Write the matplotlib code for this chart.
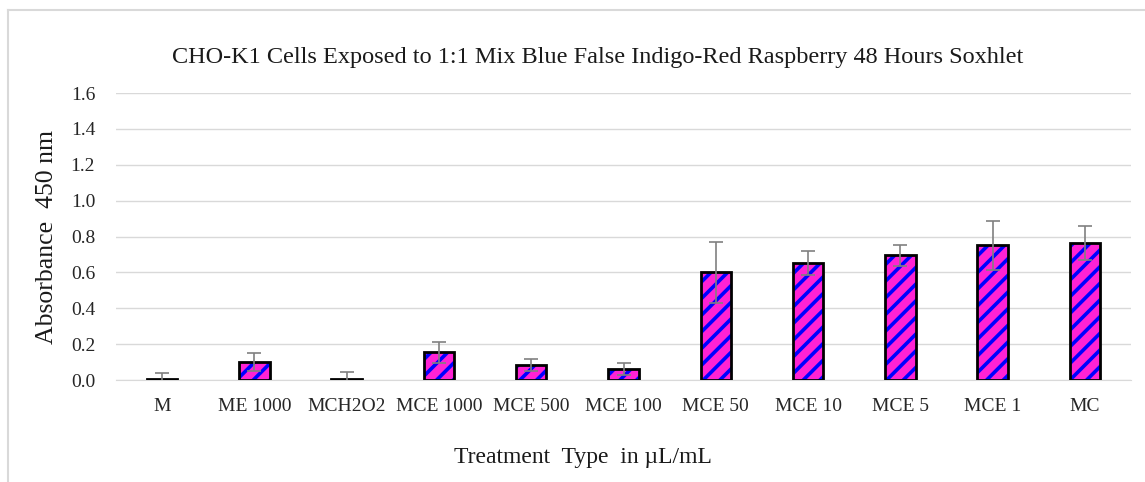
import numpy as np
import matplotlib.pyplot as plt
from matplotlib.lines import Line2D

# Data
treatments = ["M", "ME 1000", "MCH2O2", "MCE 1000", "MCE 500", "MCE 100",
              "MCE 50", "MCE 10", "MCE 5", "MCE 1", "MC"]
absorbance = [0.007, 0.100, 0.006, 0.154, 0.084, 0.061,
              0.600, 0.650, 0.695, 0.752, 0.765]
errors = [0.030, 0.050, 0.040, 0.060, 0.032, 0.032,
          0.168, 0.067, 0.060, 0.136, 0.095]

plt.rcParams['font.family'] = ['Liberation Serif', 'DejaVu Serif']
plt.rcParams['hatch.linewidth'] = 2.6

fig = plt.figure(figsize=(11.45, 4.82), dpi=100)
ax = fig.add_axes([0.1013, 0.2116, 0.8865, 0.5954])

x = np.arange(len(treatments))
width = 0.33

# hatched fill (blue stripes on magenta), then black outline on top
ax.bar(x, absorbance, width, color='#FF22D4', edgecolor='#0000FF',
       hatch='//', linewidth=0, zorder=2)
ax.bar(x, absorbance, width, color='none', edgecolor='black',
       linewidth=2, zorder=3)
ax.errorbar(x, absorbance, yerr=errors, fmt='none', ecolor='#808080',
            elinewidth=1.2, capsize=5, capthick=1.2, zorder=4)

ax.set_ylim(0, 1.6)
ax.set_xlim(-0.5, len(treatments) - 0.5)
ax.set_yticks(np.arange(0, 1.61, 0.2))
ax.set_yticklabels([f"{v:.1f}" for v in np.arange(0, 1.61, 0.2)])
ax.set_xticks(x)
ax.set_xticklabels(treatments)
ax.tick_params(axis='both', length=0, labelsize=14, colors='#262626')
ax.tick_params(axis='x', pad=13)
ax.tick_params(axis='y', pad=15)
ax.grid(axis='y', color='#D9D9D9', linewidth=1, zorder=0)
ax.set_axisbelow(True)
for s in ['top', 'right', 'left']:
    ax.spines[s].set_visible(False)
ax.spines['bottom'].set_color('#D9D9D9')

fig.text(598 / 1145, 1 - 57 / 482,
         "CHO-K1 Cells Exposed to 1:1 Mix Blue False Indigo-Red Raspberry 48 Hours Soxhlet",
         fontsize=17.5, ha='center', va='center', color='#1a1a1a')
ax.set_ylabel("Absorbance  450 nm", fontsize=18.5, labelpad=9, color='#1a1a1a')
ax.set_xlabel("Treatment  Type  in \u00b5L/mL", fontsize=17, color='#1a1a1a')
ax.xaxis.set_label_coords(0.46, -0.234)

# chart frame (left and top edges visible in the original)
fig.add_artist(Line2D([8 / 1145, 8 / 1145], [0, 1 - 10 / 482], color='#D9D9D9', lw=1.5))
fig.add_artist(Line2D([8 / 1145, 1], [1 - 10 / 482, 1 - 10 / 482], color='#D9D9D9', lw=1.5))

fig.savefig("out.png", dpi=100)
